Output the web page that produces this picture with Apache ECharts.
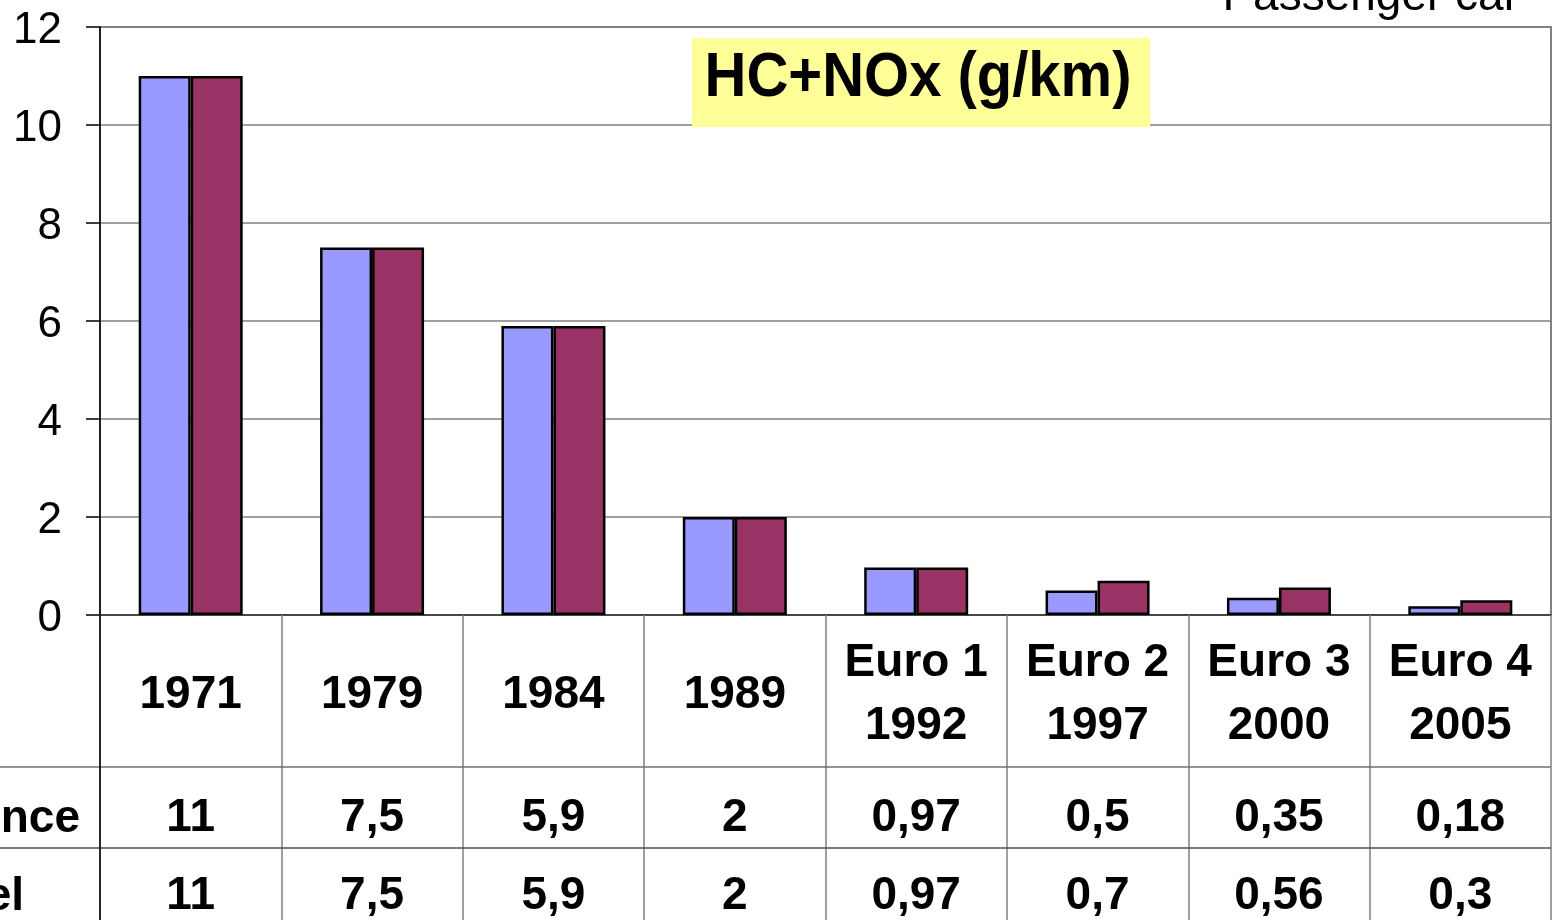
<!DOCTYPE html>
<html>
<head>
<meta charset="utf-8">
<script src="https://cdn.jsdelivr.net/npm/echarts@6/dist/echarts.min.js"></script>
<style>
html,body{margin:0;padding:0;background:#fff;overflow:hidden;}
#chart{width:1556px;height:920px;}
</style>
</head>
<body>
<div id="chart"></div>
<script>
var categories = ['1971', '1979', '1984', '1989', 'Euro 1\n1992', 'Euro 2\n1997', 'Euro 3\n2000', 'Euro 4\n2005'];
var seriesNames = ['Essence', 'Diesel'];
var essence = [11, 7.5, 5.9, 2, 0.97, 0.5, 0.35, 0.18];
var diesel = [11, 7.5, 5.9, 2, 0.97, 0.7, 0.56, 0.3];
var yTicks = [0, 2, 4, 6, 8, 10, 12];
var titleText = 'HC+NOx (g/km)';
var cornerText = 'Passenger car';

var FONT = "'Liberation Sans', Arial, sans-serif";
function fmt(v) { return String(v).replace('.', ','); }

var chart = echarts.init(document.getElementById('chart'));

function valueAxis(values, margin) {
  return {
    type: 'category',
    gridIndex: 0,
    position: 'bottom',
    data: categories,
    axisLine: { show: false },
    axisTick: { show: false },
    splitLine: { show: false },
    axisLabel: {
      interval: 0,
      margin: margin,
      verticalAlign: 'middle',
      color: '#000',
      fontFamily: FONT,
      fontWeight: 'bold',
      fontSize: 46,
      formatter: function (v, i) { return fmt(values[i]); }
    }
  };
}

var option = {
  animation: false,
  backgroundColor: '#fff',
  grid: {
    left: 100, right: 5, top: 27, bottom: 305,
    show: true, borderColor: '#808080', borderWidth: 2, backgroundColor: 'transparent'
  },
  xAxis: [
    {
      type: 'category',
      data: categories,
      axisLine: { show: true, lineStyle: { color: '#333', width: 1.5 } },
      axisTick: { show: true, interval: 0, length: 320, lineStyle: { color: '#808080', width: 1.5 } },
      axisLabel: {
        interval: 0,
        margin: 80,
        verticalAlign: 'middle',
        color: '#000',
        fontFamily: FONT,
        fontWeight: 'bold',
        fontSize: 46,
        lineHeight: 63
      }
    },
    valueAxis(essence, 203),
    valueAxis(diesel, 281)
  ],
  yAxis: {
    type: 'value',
    min: yTicks[0],
    max: yTicks[yTicks.length - 1],
    interval: 2,
    axisLine: { show: true, lineStyle: { color: '#000', width: 1.5 } },
    axisTick: { show: true, inside: false, length: 14, lineStyle: { color: '#000', width: 1.5 } },
    splitLine: { show: true, lineStyle: { color: '#808080', width: 1.5 } },
    axisLabel: {
      margin: 38,
      color: '#000',
      fontFamily: FONT,
      fontSize: 44,
      formatter: function (v) { return '{s| }\n{v|' + v + '}'; },
      rich: {
        s: { fontSize: 1, lineHeight: 8 },
        v: { fontSize: 44, lineHeight: 44, fontFamily: FONT, color: '#000' }
      }
    }
  },
  series: [
    {
      name: seriesNames[0], type: 'bar', data: essence, barWidth: 52, barGap: '0%',
      itemStyle: { color: '#9999FF', borderColor: '#000', borderWidth: 2.5 }
    },
    {
      name: seriesNames[1], type: 'bar', data: diesel, barWidth: 52, barGap: '0%',
      itemStyle: { color: '#993366', borderColor: '#000', borderWidth: 2.5 }
    }
  ],
  graphic: [
    { type: 'line', shape: { x1: 0, y1: 767, x2: 1551, y2: 767 }, style: { stroke: '#707070', lineWidth: 1.5 }, z: 5 },
    { type: 'line', shape: { x1: 0, y1: 848, x2: 1551, y2: 848 }, style: { stroke: '#505050', lineWidth: 1.5 }, z: 5 },
    { type: 'line', shape: { x1: 100, y1: 615, x2: 100, y2: 920 }, style: { stroke: '#000', lineWidth: 1.5 }, z: 6 },
    { type: 'text', x: 80, y: 819, style: { text: seriesNames[0], font: 'bold 46px ' + FONT, fill: '#000', align: 'right', verticalAlign: 'middle' }, z: 10 },
    { type: 'text', x: 24, y: 897, style: { text: seriesNames[1], font: 'bold 46px ' + FONT, fill: '#000', align: 'right', verticalAlign: 'middle' }, z: 10 },
    { type: 'rect', shape: { x: 692, y: 38, width: 458, height: 89 }, style: { fill: '#FFFF99' }, z: 10 },
    { type: 'text', x: 918, y: 79, scaleY: 1.08, style: { text: titleText, font: 'bold 58px ' + FONT, fill: '#000', align: 'center', verticalAlign: 'middle' }, z: 11 },
    { type: 'text', x: 1519, y: 20, style: { text: cornerText, font: '46px ' + FONT, fill: '#000', align: 'right', verticalAlign: 'bottom' }, z: 11 }
  ]
};
chart.setOption(option);
</script>
</body>
</html>
